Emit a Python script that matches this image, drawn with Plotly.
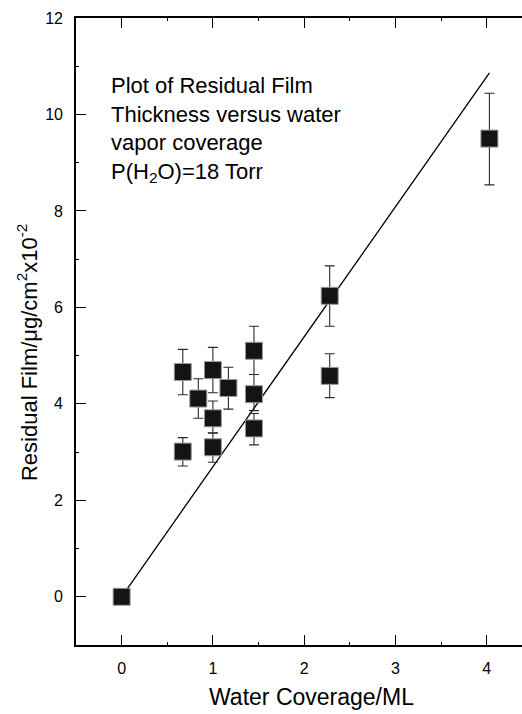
import plotly.graph_objects as go

# Data
coverage = [0, 0.67, 0.84, 1.0, 1.17, 1.45, 1.45, 1.0, 1.45, 1.0, 0.67, 2.28, 2.28, 4.03]
residual = [0, 4.66, 4.11, 4.70, 4.33, 5.10, 4.20, 3.70, 3.49, 3.10, 3.01, 4.58, 6.24, 9.50]
err_plus = [0, 0.47, 0.41, 0.47, 0.43, 0.51, 0.41, 0.36, 0.31, 0.29, 0.29, 0.46, 0.62, 0.94]
err_minus = [0, 0.47, 0.41, 0.47, 0.44, 0.49, 0.34, 0.30, 0.34, 0.31, 0.30, 0.45, 0.63, 0.96]

fit_x = [0, 4.03]
fit_y = [0, 10.86]

x_ticks = [0, 1, 2, 3, 4]
y_ticks = [0, 2, 4, 6, 8, 10, 12]

FONT = "Liberation Sans, Arial, Helvetica, sans-serif"

fig = go.Figure()

fig.add_trace(go.Scatter(
    x=fit_x, y=fit_y, mode="lines",
    line=dict(color="black", width=1.3),
    showlegend=False, hoverinfo="skip",
))

fig.add_trace(go.Scatter(
    x=coverage, y=residual, mode="markers",
    marker=dict(symbol="square", size=17, color="#141414",
                line=dict(color="#9a9a9a", width=1)),
    error_y=dict(type="data", symmetric=False, array=err_plus,
                 arrayminus=err_minus, color="#2a2a2a", thickness=1.1, width=5),
    showlegend=False,
))

fig.add_annotation(
    text="Plot of Residual Film<br>Thickness versus water<br>vapor coverage<br>P(H<sub>2</sub>O)=18 Torr",
    xref="paper", yref="paper", x=0.075, y=0.9155,
    xanchor="left", yanchor="top", align="left", showarrow=False,
    font=dict(family=FONT, size=22, color="black"),
)

fig.add_annotation(
    text="Water Coverage/ML",
    xref="paper", yref="paper", x=0.529, y=-0.059,
    xanchor="center", yanchor="top", showarrow=False,
    font=dict(family=FONT, size=23, color="black"),
)

fig.add_annotation(
    text="Residual Film/μg/cm<sup>2</sup>x10<sup>-2</sup>",
    xref="paper", yref="paper", x=-0.0735, y=0.466,
    xanchor="right", yanchor="middle", textangle=-90, showarrow=False,
    font=dict(family=FONT, size=22, color="black"),
)

fig.update_xaxes(
    range=[-0.5, 4.387], tickvals=x_ticks, ticktext=[str(v) for v in x_ticks],
    ticks="inside", ticklen=10, tickwidth=1.3, tickcolor="black",
    showline=True, linewidth=1.6, linecolor="black", mirror="allticks",
    showgrid=False, zeroline=False,
    minor=dict(dtick=0.5, tick0=0, ticks="inside", ticklen=3, tickwidth=1.1, tickcolor="black"),
    tickfont=dict(family=FONT, size=16, color="black"),
    ticklabelstandoff=8,
)

fig.update_yaxes(
    range=[-1, 12], tickvals=y_ticks, ticktext=[str(v) for v in y_ticks],
    ticks="inside", ticklen=10, tickwidth=1.3, tickcolor="black",
    showline=True, linewidth=1.6, linecolor="black", mirror=False,
    showgrid=False, zeroline=False,
    minor=dict(dtick=1, tick0=1, ticks="inside", ticklen=3, tickwidth=1.1, tickcolor="black"),
    tickfont=dict(family=FONT, size=16, color="black"),
    ticklabelstandoff=8,
)

fig.update_layout(
    width=522, height=714,
    margin=dict(l=75.5, r=0, t=17.5, b=68.5),
    plot_bgcolor="white", paper_bgcolor="white",
)

fig.write_html("out.html")
